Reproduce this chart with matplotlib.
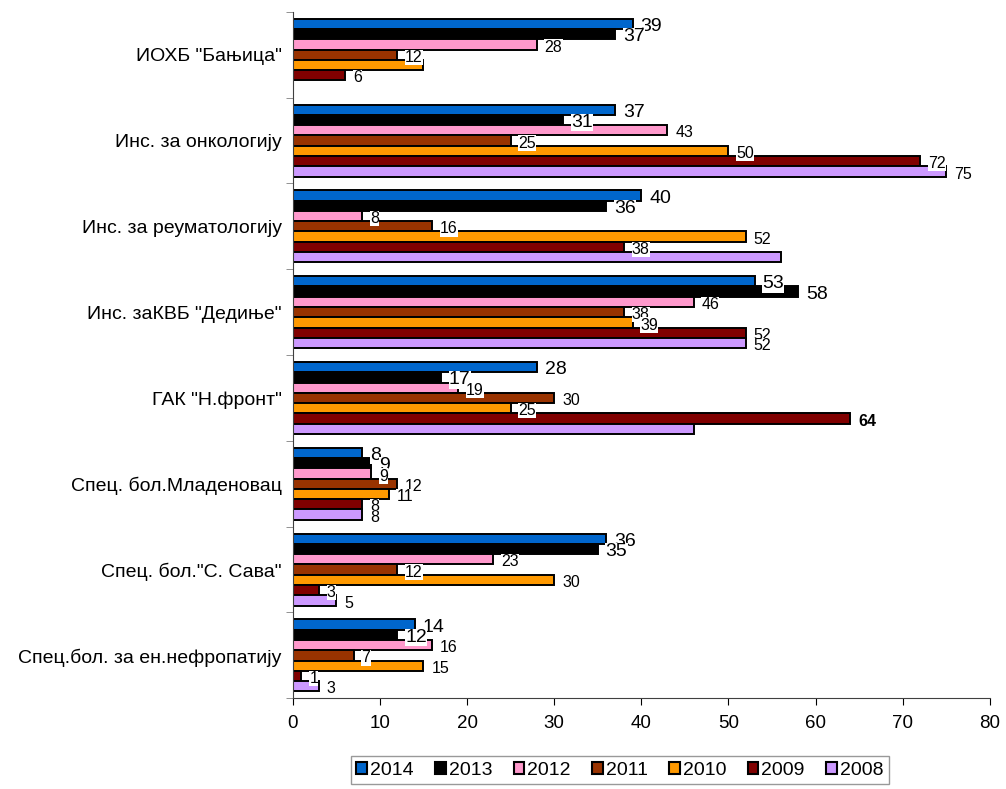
import numpy as np
import matplotlib.pyplot as plt

plt.rcParams['font.family'] = ['Liberation Sans', 'DejaVu Sans']

categories = ['ИОХБ "Бањица"', 'Инс. за онкологију', 'Инс. за реуматологију',
              'Инс. заКВБ "Дедиње"', 'ГАК "Н.фронт"', 'Спец. бол.Младеновац',
              'Спец. бол."С. Сава"', 'Спец.бол. за ен.нефропатију']
years = ['2014', '2013', '2012', '2011', '2010', '2009', '2008']

v2014 = [39, 37, 40, 53, 28, 8, 36, 14]
v2013 = [37, 31, 36, 58, 17, 9, 35, 12]
v2012 = [28, 43, 8, 46, 19, 9, 23, 16]
v2011 = [12, 25, 16, 38, 30, 12, 12, 7]
v2010 = [15, 50, 52, 39, 25, 11, 30, 15]
v2009 = [6, 72, 38, 52, 64, 8, 3, 1]
v2008 = [0, 75, 56, 52, 46, 8, 5, 3]
series = [v2014, v2013, v2012, v2011, v2010, v2009, v2008]

colors = ['#0066CC', '#000000', '#FF99CC', '#993300', '#FF9900', '#800000', '#CC99FF']
# labels that are not shown in the original
hidden = {(0, 4), (0, 6), (2, 6), (4, 6)}

fig = plt.figure(figsize=(10.06, 7.89), dpi=100)
ax = fig.add_axes([0.291, 0.115, 0.693, 0.870])

n = len(series)
span = 0.84
h = span / n
ypos = np.arange(len(categories))

for j, (vals, col, yr) in enumerate(zip(series, colors, years)):
    y = ypos - span / 2 + (j + 0.5) * h
    ax.barh(y, vals, height=h, color=col, edgecolor='black', linewidth=1.4,
            label=yr, zorder=2)
    for g, v in enumerate(vals):
        if (g, j) in hidden:
            continue
        big = j < 2
        ax.text(v + 0.9, y[g] + 0.03, str(v), va='center', ha='left',
                fontsize=14 if big else 11.5,
                fontweight='bold' if (g == 4 and j == 5) else 'normal',
                bbox=dict(facecolor='white', edgecolor='none', pad=0.1),
                zorder=3)

ax.set_xlim(0, 80)
ax.set_ylim(len(categories) - 0.5, -0.5)
ax.set_xticks(range(0, 81, 10))
ax.tick_params(axis='x', labelsize=13.5, direction='out', length=5, pad=7)
ax.set_yticks(ypos)
ax.set_yticklabels(categories, fontsize=14)
ax.tick_params(axis='y', which='major', length=0, pad=8)
ax.set_yticks(np.arange(-0.5, len(categories) + 0.5, 1), minor=True)
ax.tick_params(axis='y', which='minor', length=5, direction='out', color='#808080')
ax.spines['top'].set_visible(False)
ax.spines['right'].set_visible(False)
ax.spines['left'].set_color('#404040')
ax.spines['bottom'].set_color('#404040')

leg = fig.legend(loc='center', bbox_to_anchor=(0.616, 0.024), ncol=7, fontsize=14,
                 frameon=True, fancybox=False, edgecolor='#808080',
                 handlelength=0.55, handleheight=0.55, handletextpad=0.15,
                 columnspacing=1.1, borderpad=0.3)
for p in leg.get_patches():
    p.set_linewidth(1.5)

fig.savefig('out.png', dpi=100)
